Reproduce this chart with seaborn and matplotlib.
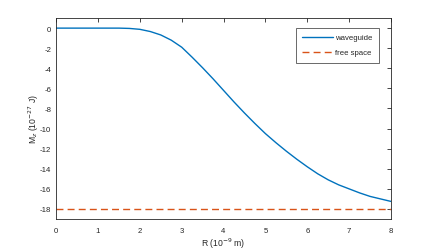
import numpy as np
import pandas as pd
import matplotlib
matplotlib.use("Agg")
import matplotlib.pyplot as plt
import seaborn as sns

# values
r_nm = [0, 0.5, 1.0, 1.5, 1.75, 2.0, 2.25, 2.5, 2.75, 3.0, 3.25, 3.5, 3.75, 4.0,
        4.25, 4.5, 4.75, 5.0, 5.25, 5.5, 5.75, 6.0, 6.25, 6.5, 6.75, 7.0, 7.25,
        7.5, 7.75, 8.0]
mz_waveguide = [0, 0, 0, 0, -0.03, -0.12, -0.34, -0.68, -1.2, -1.9, -2.9, -3.95,
                -5.05, -6.2, -7.35, -8.45, -9.5, -10.5, -11.4, -12.25, -13.05,
                -13.8, -14.5, -15.1, -15.6, -16.0, -16.4, -16.75, -17.0, -17.25]
mz_free = -18.0

sns.set_style("white")
plt.rcParams['font.family'] = ['Liberation Sans', 'DejaVu Sans']
plt.rcParams['axes.unicode_minus'] = False

df = pd.DataFrame({"R": r_nm, "Mz": mz_waveguide})

fig = plt.figure(figsize=(4.32, 2.51), dpi=100)
ax = fig.add_axes([0.13, 0.1235, 0.775, 0.8005])

sns.lineplot(data=df, x="R", y="Mz", ax=ax, color="#0072BD", lw=1.0, label="waveguide")
ax.axhline(mz_free, color="#D95319", lw=1.0, ls=(0, (5, 3)), label="free space")

ax.set_xlim(0, 8)
ax.set_ylim(-19, 1)
ax.set_xticks(range(0, 9))
ax.set_yticks(range(-18, 1, 2))
ax.set_xlabel("R (10$^{-9}$ m)", fontsize=6.2, color="#262626")
ax.set_ylabel("M$_z$ (10$^{-27}$ J)", fontsize=6.2, color="#262626")
ax.xaxis.set_label_coords(0.5, -0.085)
ax.yaxis.set_label_coords(-0.045, 0.5)
ax.tick_params(direction="in", length=3, width=0.6, labelsize=5.6, colors="#262626",
               top=True, right=True, labeltop=False, labelright=False)
ax.tick_params(axis="x", pad=5.5)
ax.tick_params(axis="y", pad=3.5)
for s in ax.spines.values():
    s.set_color("#262626")
    s.set_linewidth(0.6)

leg = ax.legend(loc="upper right", fontsize=5.6, frameon=True, fancybox=False,
                borderpad=0.8, handlelength=4.0, handletextpad=0.3,
                labelspacing=1.0, bbox_to_anchor=(0.976, 0.972))
leg.get_frame().set_edgecolor("#262626")
leg.get_frame().set_linewidth(0.6)

fig.savefig("out.png", dpi=100)
